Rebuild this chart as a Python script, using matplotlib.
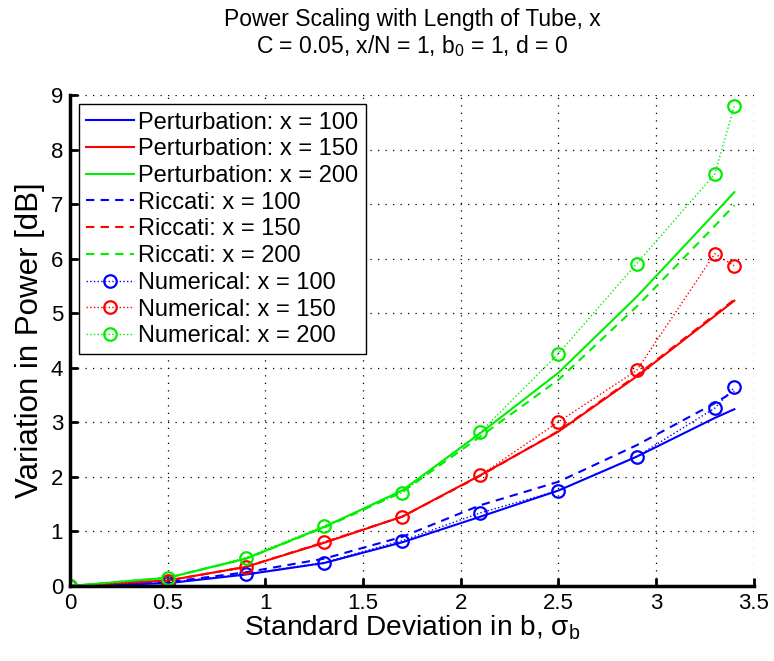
import matplotlib
matplotlib.use("Agg")
import matplotlib.pyplot as plt

plt.rcParams['font.family'] = ['Liberation Sans', 'DejaVu Sans']
plt.rcParams['mathtext.fontset'] = 'custom'
plt.rcParams['mathtext.rm'] = 'Liberation Sans'
plt.rcParams['mathtext.it'] = 'Liberation Sans'
plt.rcParams['mathtext.default'] = 'regular'

# standard deviation in b
sigma = [0, 0.5, 0.9, 1.3, 1.7, 2.1, 2.5, 2.9, 3.3, 3.4]

# perturbation theory
pert100 = [0, 0.05, 0.21, 0.42, 0.80, 1.27, 1.75, 2.37, 3.08, 3.24]
pert150 = [0, 0.10, 0.35, 0.79, 1.27, 2.03, 2.83, 3.84, 4.95, 5.23]
pert200 = [0, 0.15, 0.50, 1.08, 1.75, 2.80, 3.91, 5.30, 6.83, 7.22]

# Riccati
ric100 = [0, 0.07, 0.25, 0.50, 0.90, 1.48, 1.91, 2.58, 3.35, 3.57]
ric150 = [0, 0.10, 0.35, 0.80, 1.27, 2.02, 2.84, 3.86, 4.97, 5.25]
ric200 = [0, 0.15, 0.50, 1.07, 1.72, 2.74, 3.78, 5.12, 6.60, 6.98]

# numerical simulation
num100 = [0, 0.06, 0.22, 0.43, 0.83, 1.34, 1.75, 2.37, 3.26, 3.64]
num150 = [0, 0.10, 0.34, 0.81, 1.27, 2.03, 3.01, 3.95, 6.09, 5.87]
num200 = [0, 0.15, 0.52, 1.10, 1.71, 2.82, 4.26, 5.91, 7.55, 8.80]

lengths = [100, 150, 200]
colors = ['#0000ff', '#ff0000', '#00ee00']

fig = plt.figure(figsize=(7.74, 6.61), dpi=100)
ax = fig.add_axes([0.0904, 0.1135, 0.8836, 0.7428])

for L, y, c in zip(lengths, [pert100, pert150, pert200], colors):
    ax.plot(sigma, y, color=c, lw=1.5, label=f'Perturbation: x = {L}')
for L, y, c in zip(lengths, [ric100, ric150, ric200], colors):
    ax.plot(sigma, y, color=c, lw=1.5, ls=(0, (4, 3)), label=f'Riccati: x = {L}')
for L, y, c in zip(lengths, [num100, num150, num200], colors):
    ax.plot(sigma, y, color=c, lw=1.0, ls=':', marker='o', ms=9,
            mfc='none', mec=c, mew=1.6, label=f'Numerical: x = {L}')

ax.set_xlim(0, 3.5)
ax.set_ylim(0, 9)
ax.set_xticks([0, 0.5, 1, 1.5, 2, 2.5, 3, 3.5])
ax.set_xticklabels(['0', '0.5', '1', '1.5', '2', '2.5', '3', '3.5'])
ax.set_yticks(range(10))

ax.grid(True, color='black', ls=(0, (1, 5)), lw=0.9)
for s in ['top', 'right']:
    ax.spines[s].set_visible(False)
for s in ['left', 'bottom']:
    ax.spines[s].set_linewidth(2.5)
ax.tick_params(direction='in', length=6, width=2, labelsize=16, pad=5)

ax.set_xlabel(r'Standard Deviation in b, $\sigma_b$', fontsize=20.2, labelpad=0)
ax.set_ylabel('Variation in Power [dB]', fontsize=22.5, labelpad=4)
ax.set_title('Power Scaling with Length of Tube, x\n'
             r'C = 0.05, x/N = 1, b$_0$ = 1, d = 0',
             fontsize=16.5, linespacing=1.1, pad=30)

leg = ax.legend(loc='upper left', fontsize=17, frameon=True, fancybox=False,
                edgecolor='black', framealpha=1, handlelength=2.0,
                handletextpad=0.2, labelspacing=0.2, borderpad=0.3,
                borderaxespad=0.4)
leg.get_frame().set_linewidth(1.0)

fig.savefig('out.png', dpi=100)
